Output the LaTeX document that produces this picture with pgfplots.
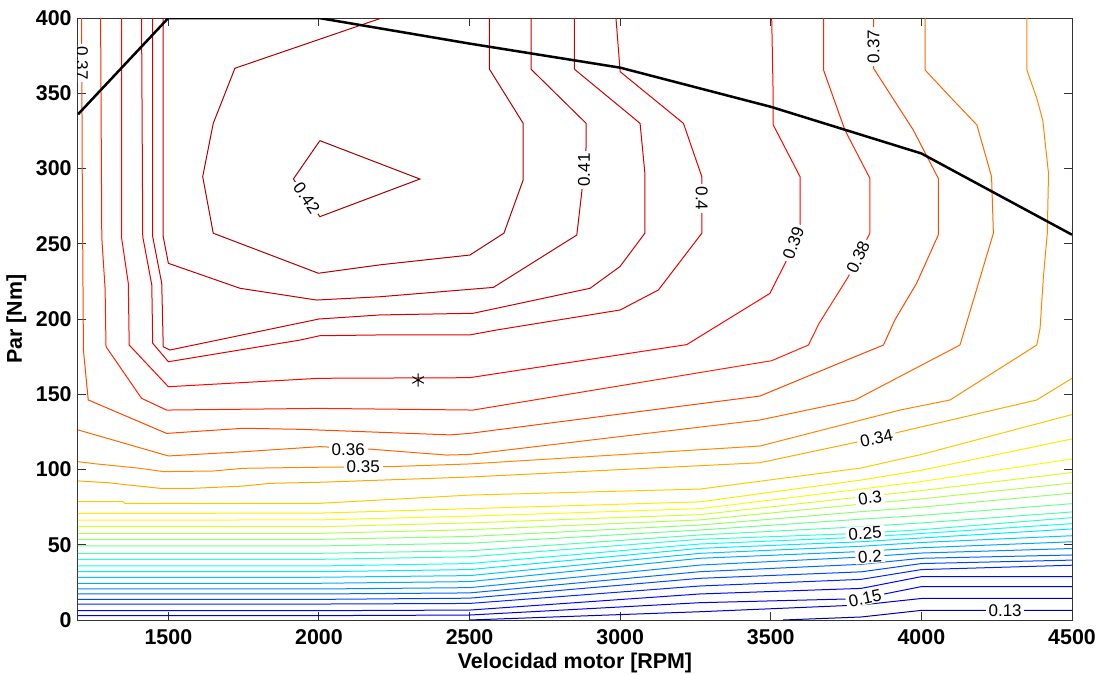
\documentclass[border=0pt]{standalone}
\usepackage{fontspec}
\setmainfont{Liberation Sans}
\usepackage{pgfplots}
\pgfplotsset{compat=1.18}
\tikzset{lbl/.style={fill=white, inner xsep=1.4bp, inner ysep=0.4bp, text=black, font=\fontsize{8.5bp}{9bp}\selectfont}}
\begin{document}
\begin{tikzpicture}
\path[use as bounding box] (-39bp,-27.5bp) rectangle (514bp,310bp);
\begin{axis}[
  at={(0,0)}, anchor=south west,
  scale only axis, width=497bp, height=301bp,
  xmin=1200, xmax=4500, ymin=0, ymax=400,
  xtick={1500,2000,...,4500}, ytick={0,50,...,400},
  scaled ticks=false,
  tick align=inside, major tick length=4bp,
  axis line style={line width=0.5bp, black!80},
  every tick/.style={black!80, line width=0.5bp},
  tick label style={font=\fontsize{10.7bp}{12bp}\selectfont\bfseries},
  /pgf/number format/assume math mode=true,
  /pgf/number format/1000 sep={},
  xticklabel style={anchor=center, yshift=-8.5bp},
  yticklabel style={anchor=east, inner sep=0pt, xshift=-3bp},
  xlabel={Velocidad motor [RPM]},
  ylabel={Par [Nm]},
  label style={font=\fontsize{10.7bp}{12bp}\selectfont\bfseries},
  xlabel style={at={(axis description cs:0.5,-0.0714)}, anchor=center},
  ylabel style={at={(axis description cs:-0.0619,0.5)}, anchor=center},
  colormap/jet, point meta min=0.12, point meta max=0.43,
  clip=true,
]
\addplot[contour prepared, contour/labels=false, line width=0.5bp] table {
2003 318.5 0.42
2335 293 0.42
2003 268 0.42
1915 293 0.42
2003 318.5 0.42

2208 400 0.415
1721 366.6 0.415
1649 330 0.415
1614 294.6 0.415
1649 257 0.415
1998 230.4 0.415
2203 236 0.415
2501 242.5 0.415
2614 257 0.415
2678 292.4 0.415
2678 330 0.415
2566 366 0.415
2566 400 0.415

1483 400 0.41
1483 254.7 0.41
1500 237 0.41
1738 220.4 0.41
1992 212.6 0.41
2203 214.8 0.41
2579 221 0.41
2856 255.8 0.41
2872 283.5 0.41
2887 314.5 0.41
2887 330 0.41
2704 366 0.41
2704 400 0.41

1448 400 0.405
1448 254.7 0.405
1478 223.7 0.405
1483 181.6 0.405
1505 179.4 0.405
2000 200 0.405
2203 202.7 0.405
2512 203.8 0.405
2900 220.4 0.405
2999 234.8 0.405
3082 257 0.405
3082 296.9 0.405
3066 330 0.405
2848 366 0.405
2848 400 0.405

1411 400 0.40
1415 254.7 0.40
1445 222.6 0.40
1448 183.9 0.40
1500 171.6 0.40
1937 186 0.40
2003 188.9 0.40
2200 189.4 0.40
2500 189.4 0.40
2590 192.7 0.40
3000 206 0.40
3127 219.3 0.40
3271 257 0.40
3271 294.6 0.40
3210 330 0.40
3000 364.3 0.40
2986 400 0.40

1345 400 0.39
1345 253.6 0.39
1367 223.7 0.39
1370 182.7 0.39
1406 175 0.39
1500 155 0.39
2000 160.6 0.39
2500 161 0.39
3221 183 0.39
3497 217 0.39
3553 239.2 0.39
3597 262 0.39
3597 294.6 0.39
3508 329 0.39
3508 347.7 0.39
3503 400 0.39

1275 400 0.38
1279 254 0.38
1290 220 0.38
1293 181.6 0.38
1411 147.3 0.38
1494 139.5 0.38
2000 140.6 0.38
2512 139.5 0.38
3503 172.3 0.38
3625 182.7 0.38
3660 197 0.38
3757 228 0.38
3829 257 0.38
3829 293.5 0.38
3746 325.6 0.38
3675 365.5 0.38
3675 400 0.38

1212 400 0.37
1214 300 0.37
1218 179.4 0.37
1234 146.2 0.37
1494 124 0.37
1749 127.4 0.37
1937 126.7 0.37
2435 123 0.37
2500 124 0.37
3464 148.8 0.37
3780 175 0.37
3874 182.7 0.37
3912 199.4 0.37
3984 223.7 0.37
4056 255.8 0.37
4056 293.5 0.37
3973 325.6 0.37
3841 366.6 0.37
3841 400 0.37

1200 126.3 0.36
1500 109 0.36
1749 111.8 0.36
2003 115.2 0.36
2180 113.4 0.36
2280 111.8 0.36
2424 109.6 0.36
2500 110 0.36
3464 132.9 0.36
3780 146.2 0.36
4128 182.7 0.36
4145 194 0.36
4239 257 0.36
4233 294.6 0.36
4184 329 0.36
4095 347.7 0.36
4012 365.5 0.36
4012 400 0.36

1200 105.2 0.35
1262 103.7 0.35
1406 100.8 0.35
1483 98.6 0.35
1649 99 0.35
1749 100.8 0.35
2000 101.5 0.35
2236 101.9 0.35
2500 103.7 0.35
3464 115.6 0.35
3929 139.5 0.35
4095 146.2 0.35
4383 182.7 0.35
4394 193.8 0.35
4405 228 0.35
4418 257 0.35
4422 296.8 0.35
4403 332 0.35
4383 346.7 0.35
4350 365.5 0.35
4350 400 0.35

1200 92.4 0.34
1295 91.3 0.34
1472 87.5 0.34
1583 87.5 0.34
1749 89 0.34
1837 90.8 0.34
2000 91.5 0.34
2500 95 0.34
3464 104.5 0.34
3844 120.7 0.34
3929 125 0.34
4383 146.2 0.34
4500 160.6 0.34

1200 78.6 0.33
1350 78.6 0.33
1355 77.5 0.33
2000 77.5 0.33
2500 83 0.33
3265 87 0.33
3800 101 0.33
4000 110 0.33
4500 136.5 0.33

1200 70.9 0.32
1500 70.9 0.32
2000 71 0.32
2500 74 0.32
3265 78.5 0.32
3800 93 0.32
4000 99.5 0.32
4500 120.3 0.32

1200 66.4 0.31
1500 66.4 0.31
2000 66.5 0.31
2500 69 0.31
3265 74 0.31
3800 87 0.31
4000 92 0.31
4500 107 0.31

1200 62 0.30
1500 62 0.30
2000 62 0.30
2500 64.5 0.30
3265 70 0.30
3800 81.8 0.30
4000 86 0.30
4500 98 0.30

1200 57.6 0.29
2000 57.6 0.29
2500 60 0.29
3265 66.5 0.29
3800 77 0.29
4000 80.5 0.29
4500 91 0.29

1200 53.6 0.28
2000 53.6 0.28
2500 55.5 0.28
3265 63.1 0.28
3800 72 0.28
4000 75 0.28
4500 84.3 0.28

1200 49.2 0.27
2000 49.2 0.27
2500 51 0.27
3265 59.8 0.27
3800 67 0.27
4000 69.5 0.27
4500 77.3 0.27

1200 44.3 0.26
2000 44.3 0.26
2500 46 0.26
3265 56.5 0.26
3800 62 0.26
4000 64.5 0.26
4500 71.8 0.26

1200 40.3 0.25
2000 40.3 0.25
2500 42 0.25
3265 53.6 0.25
3800 57.6 0.25
4000 60 0.25
4500 68 0.25

1200 35.9 0.24
2000 35.9 0.24
2500 37.5 0.24
3265 50.5 0.24
3800 55 0.24
4000 57.5 0.24
4500 64 0.24

1200 32.1 0.23
2000 32.1 0.23
2500 33.5 0.23
3265 47.6 0.23
3800 52 0.23
4000 54.5 0.23
4500 60.5 0.23

1200 28.4 0.22
2000 28.4 0.22
2500 29.5 0.22
3265 44.3 0.22
3800 49 0.22
4000 51.5 0.22
4500 56 0.22

1200 24.4 0.21
2000 24.4 0.21
2500 25.5 0.21
3265 41 0.21
3800 45.5 0.21
4000 48 0.21
4500 52 0.21

1200 20.6 0.20
2000 20.6 0.20
2500 21.5 0.20
3265 36.5 0.20
3800 41.8 0.20
4000 44.5 0.20
4500 47.5 0.20

1200 17.3 0.19
2000 17.3 0.19
2500 18 0.19
3265 32.1 0.19
3800 37 0.19
4000 41 0.19
4500 43.2 0.19

1200 13.7 0.18
2000 13.7 0.18
2500 14.5 0.18
3265 27.7 0.18
3800 32 0.18
4000 37.5 0.18
4500 39.8 0.18

1200 10.6 0.17
2000 10.6 0.17
2500 11 0.17
3265 22.6 0.17
3800 27 0.17
4000 33.5 0.17
4500 36.4 0.17

1200 6.2 0.16
2000 6.2 0.16
2500 6.6 0.16
3265 17.3 0.16
3800 21 0.16
4000 28.8 0.16
4500 28.8 0.16

1200 2.9 0.15
2000 2.9 0.15
2500 3.3 0.15
3265 11.5 0.15
3800 14.2 0.15
4000 22.2 0.15
4500 22.2 0.15

2500 0 0.14
3265 5.5 0.14
3800 10 0.14
4000 14.3 0.14
4500 14.3 0.14

3541 0 0.13
3800 2 0.13
4000 6.4 0.13
4500 6.4 0.13
};
\addplot[black, line width=1.25bp] coordinates {
(1200,336) (1500,400) (2000,400) (2500,383) (3000,367) (3500,341) (4000,310) (4500,256)};
\addplot[only marks, mark=asterisk, mark size=3.3bp, black, mark options={line width=0.5bp}] coordinates {(2329,159.5)};
\node[lbl, rotate=-55] at (axis cs:1959,280.5) {0.42};
\node[lbl, rotate=90] at (axis cs:2880,299) {0.41};
\node[lbl, rotate=-90] at (axis cs:3271,280) {0.4};
\node[lbl, rotate=70] at (axis cs:3575,250.5) {0.39};
\node[lbl, rotate=65] at (axis cs:3790,241) {0.38};
\node[lbl, rotate=90] at (axis cs:3841,381) {0.37};
\node[lbl, rotate=-90] at (axis cs:1213,370) {0.37};
\node[lbl] at (axis cs:2097,113.5) {0.36};
\node[lbl] at (axis cs:2147,101.7) {0.35};
\node[lbl, rotate=12] at (axis cs:3851,121) {0.34};
\node[lbl, rotate=8] at (axis cs:3829,81.3) {0.3};
\node[lbl, rotate=4] at (axis cs:3813,57.8) {0.25};
\node[lbl, rotate=5] at (axis cs:3829,42.2) {0.2};
\node[lbl, rotate=12] at (axis cs:3813,14.6) {0.15};
\node[lbl] at (axis cs:4278,6.4) {0.13};
\end{axis}
\end{tikzpicture}
\end{document}
